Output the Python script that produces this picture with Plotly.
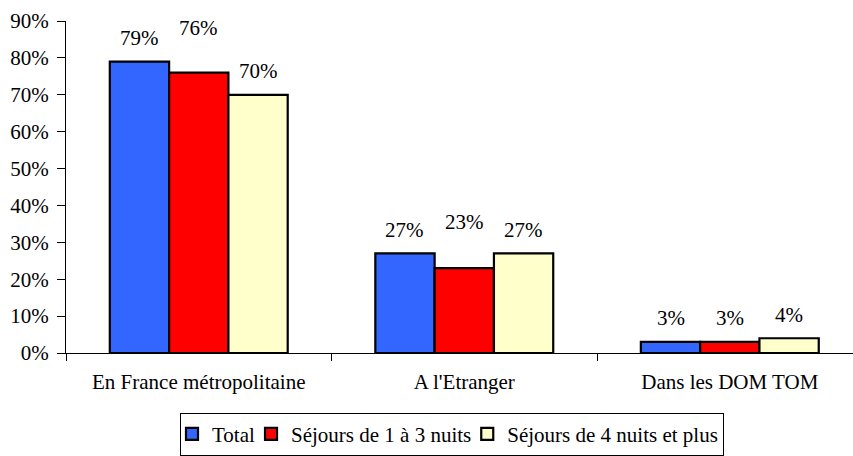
import plotly.graph_objects as go

categories = ["En France métropolitaine", "A l'Etranger", "Dans les DOM TOM"]
series_names = ["Total", "Séjours de 1 à 3 nuits", "Séjours de 4 nuits et plus"]
total = [79, 27, 3]
sejours_1_3 = [76, 23, 3]
sejours_4_plus = [70, 27, 4]
y_ticks = [0, 10, 20, 30, 40, 50, 60, 70, 80, 90]
y_tick_labels = [f"{v}%" for v in y_ticks]

series_values = [total, sejours_1_3, sejours_4_plus]
colors = ["#3366FF", "#FF0000", "#FFFFCC"]

FONT = "Liberation Serif"
FS = 21
W, H = 853, 456
M_L, M_R, M_T, M_B = 66, 0, 21, 103
BARGAP = 0.33
X_RANGE = [-0.5, 2.464]
# vertical lift of each data label above its bar top (px), per series/category
label_lift = [[24, 23, 24], [45, 46, 24], [24, 23, 23]]

fig = go.Figure()
for name, vals, col in zip(series_names, series_values, colors):
    fig.add_trace(go.Bar(
        name=name, x=categories, y=vals,
        marker=dict(color=col, line=dict(color="black", width=2.2)),
    ))

plot_w = W - M_L - M_R
px_per_cat = plot_w / (X_RANGE[1] - X_RANGE[0])
bar_px = px_per_cat * (1 - BARGAP) / len(series_names)

for si, vals in enumerate(series_values):
    for ci, v in enumerate(vals):
        fig.add_annotation(
            x=categories[ci], y=v, xref="x", yref="y",
            text=f"{v}%", showarrow=False,
            xshift=(si - 1) * bar_px, yshift=label_lift[si][ci],
            yanchor="middle", xanchor="center",
            font=dict(family=FONT, size=FS, color="black"),
        )

fig.update_layout(
    width=W, height=H,
    margin=dict(l=M_L, r=M_R, t=M_T, b=M_B, pad=0, autoexpand=False),
    paper_bgcolor="white", plot_bgcolor="white",
    barmode="group", bargap=BARGAP, bargroupgap=0,
    font=dict(family=FONT, size=FS, color="black"),
    showlegend=True,
    legend=dict(
        orientation="h", x=(180 - M_L) / plot_w, xanchor="left",
        y=-0.18, yanchor="top",
        bordercolor="black", borderwidth=1, bgcolor="white",
        font=dict(family=FONT, size=FS, color="black"),
        itemwidth=30, indentation=-9, tracegroupgap=0,
    ),
    xaxis=dict(
        type="category", range=X_RANGE, showgrid=False,
        showline=True, linecolor="black", linewidth=1,
        ticks="outside", tickson="boundaries", ticklen=7, tickcolor="black",
        ticklabelstandoff=10,
        tickfont=dict(family=FONT, size=FS, color="black"),
        fixedrange=True, automargin=False,
    ),
    yaxis=dict(
        range=[0, 90], tickvals=y_ticks, ticktext=y_tick_labels,
        showgrid=False, zeroline=False,
        showline=True, linecolor="black", linewidth=1,
        ticks="outside", ticklen=8, tickcolor="black",
        ticklabelstandoff=4,
        tickfont=dict(family=FONT, size=FS, color="black"),
        fixedrange=True, automargin=False,
    ),
)

fig.write_html(
    "out.html",
    config={"displayModeBar": False},
    post_script="document.body.style.margin='0';",
)
